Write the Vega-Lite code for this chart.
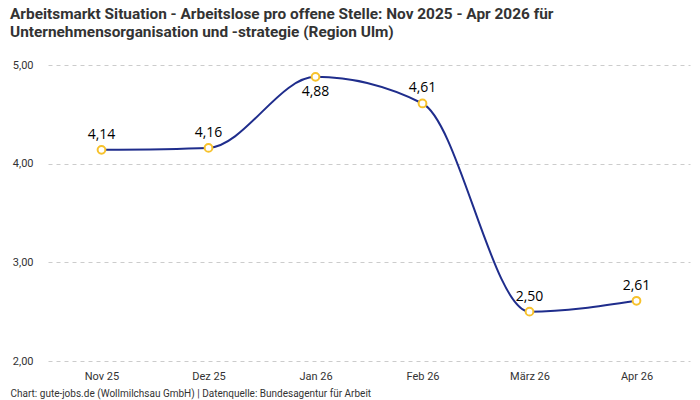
{
  "$schema": "https://vega.github.io/schema/vega-lite/v6.json",
  "autosize": "none",
  "width": 642,
  "height": 296,
  "padding": {"left": 48, "top": 65, "right": 10, "bottom": 39},
  "background": "white",
  "config": {
    "locale": {"number": {"decimal": ",", "thousands": ".", "grouping": [3], "currency": ["", " €"]}},
    "view": {"stroke": null},
    "font": "Roboto"
  },
  "title": {
    "text": ["Arbeitsmarkt Situation - Arbeitslose pro offene Stelle: Nov 2025 - Apr 2026 für", "Unternehmensorganisation und -strategie (Region Ulm)"],
    "anchor": "start",
    "frame": "group",
    "dx": -38,
    "offset": 19,
    "fontSize": 15.4,
    "fontWeight": "bold",
    "color": "#333333",
    "lineHeight": 18,
    "font": "Roboto"
  },
  "data": {
    "values": [
      {"month": "Nov 25", "value": 4.14},
      {"month": "Dez 25", "value": 4.16},
      {"month": "Jan 26", "value": 4.88},
      {"month": "Feb 26", "value": 4.61},
      {"month": "März 26", "value": 2.50},
      {"month": "Apr 26", "value": 2.61}
    ]
  },
  "encoding": {
    "x": {
      "field": "month",
      "type": "ordinal",
      "sort": null,
      "scale": {"type": "point", "padding": 0.5},
      "axis": {
        "title": "Chart: gute-jobs.de (Wollmilchsau GmbH) | Datenquelle: Bundesagentur für Arbeit",
        "titleAnchor": "start",
        "titleAlign": "left",
        "titleX": -38,
        "titleY": 27,
        "titleFontSize": 10,
        "titleFontWeight": "normal",
        "titleColor": "#333333",
        "labelAngle": 0,
        "labelFontSize": 11,
        "labelColor": "#333333",
        "labelPadding": 9,
        "domain": false,
        "ticks": false,
        "grid": false
      }
    },
    "y": {
      "field": "value",
      "type": "quantitative",
      "scale": {"domain": [2, 5], "nice": false, "zero": false},
      "axis": {
        "title": null,
        "values": [2, 3, 4, 5],
        "format": ".2f",
        "labelFontSize": 11,
        "labelColor": "#333333",
        "labelPadding": 15,
        "domain": false,
        "ticks": false,
        "grid": true,
        "gridDash": [4, 4],
        "gridColor": "#cccccc",
        "gridWidth": 1
      }
    }
  },
  "layer": [
    {
      "mark": {"type": "line", "interpolate": "monotone", "color": "#1f2d8c", "strokeWidth": 2}
    },
    {
      "mark": {"type": "point", "filled": true, "fill": "white", "stroke": "#f7c22c", "strokeWidth": 2, "size": 60, "opacity": 1}
    },
    {
      "transform": [{"filter": "datum.month !== 'Jan 26'"}],
      "mark": {"type": "text", "dy": -15, "fontSize": 14, "font": "Open Sans", "fontWeight": "normal", "color": "#000000"},
      "encoding": {"text": {"field": "value", "type": "quantitative", "format": ".2f"}}
    },
    {
      "transform": [{"filter": "datum.month === 'Jan 26'"}],
      "mark": {"type": "text", "dy": 15, "fontSize": 14, "font": "Open Sans", "fontWeight": "normal", "color": "#000000"},
      "encoding": {"text": {"field": "value", "type": "quantitative", "format": ".2f"}}
    }
  ]
}
